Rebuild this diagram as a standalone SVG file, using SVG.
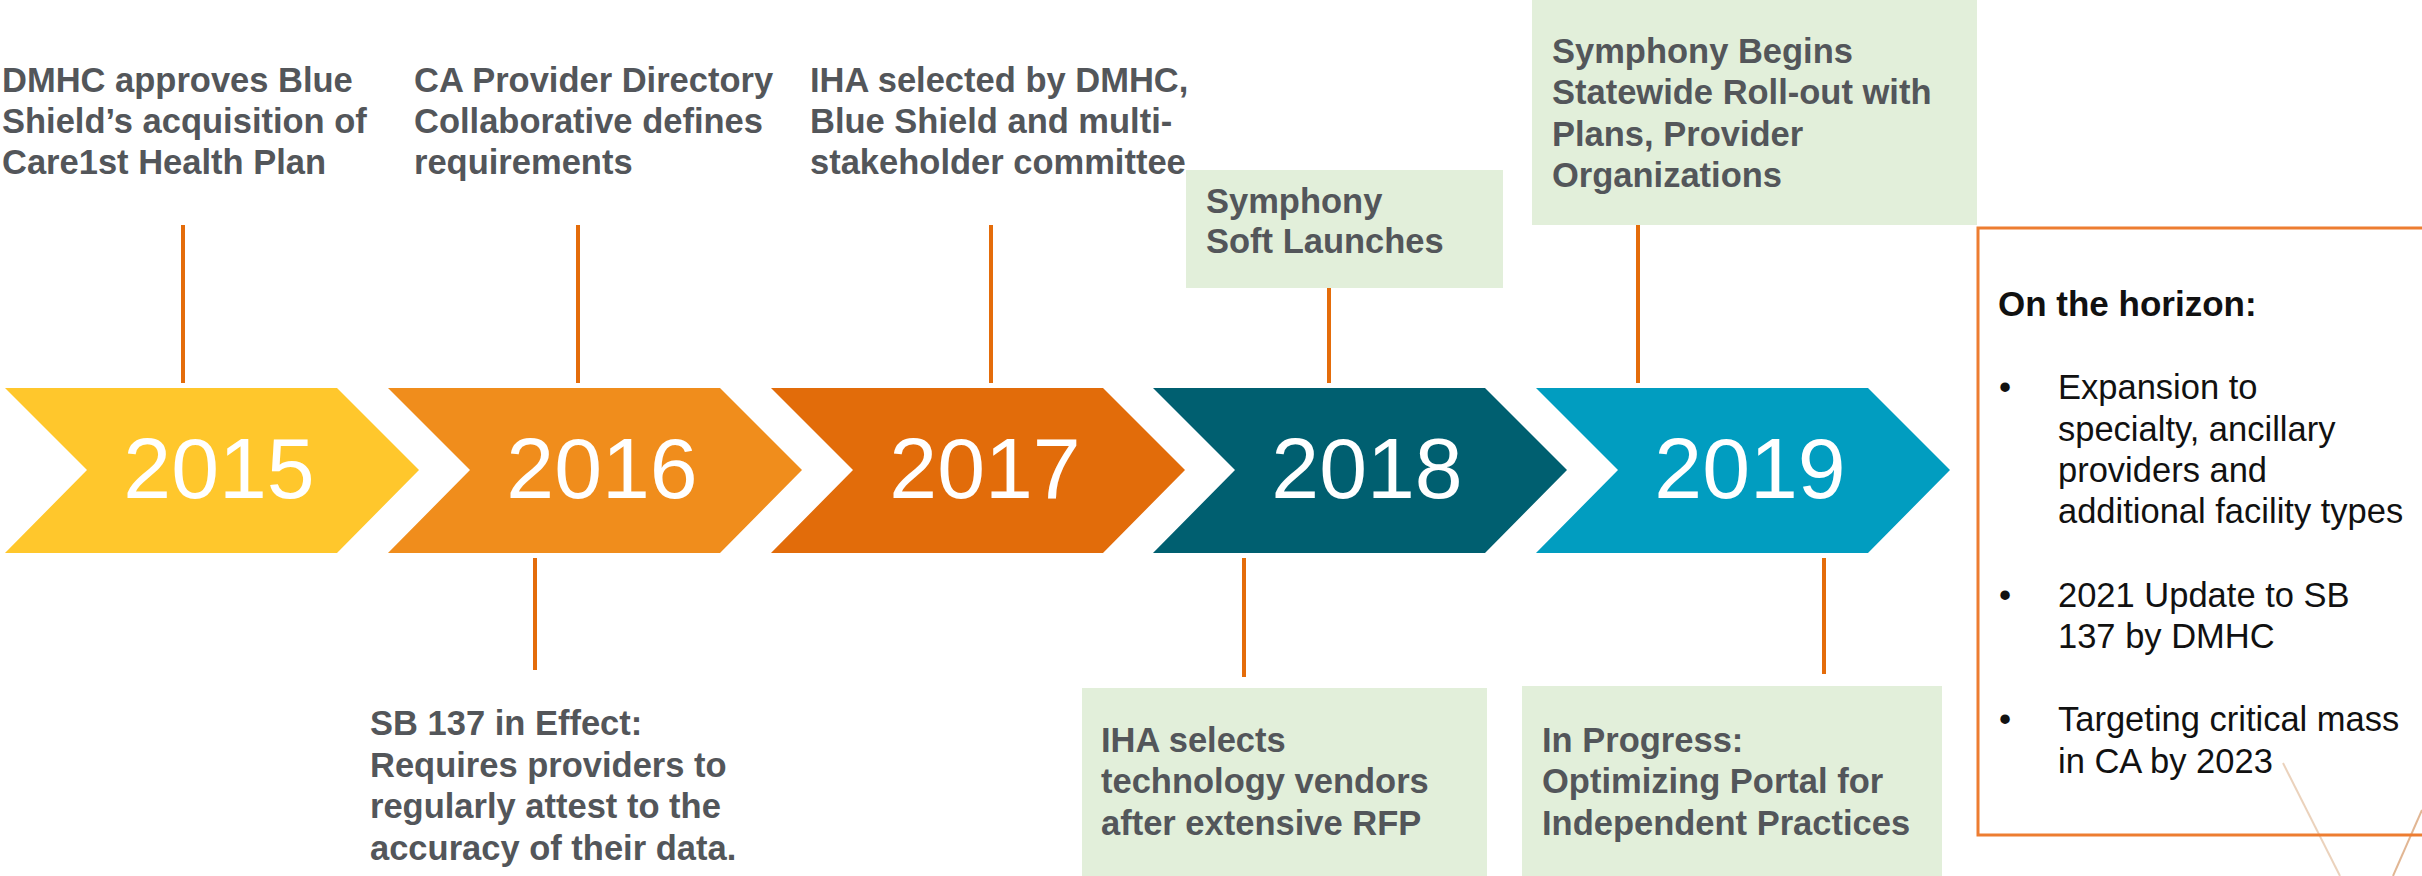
<svg xmlns="http://www.w3.org/2000/svg" width="2422" height="876" viewBox="0 0 2422 876">
  <style>
    .lbl { font-family: "Liberation Sans", Arial, sans-serif; font-weight: bold; font-size: 34.5px; fill: #53565A; }
    .year { font-family: "Liberation Sans", Arial, sans-serif; font-size: 86px; fill: #FFFFFF; text-anchor: middle; }
    .hz { font-family: "Liberation Sans", Arial, sans-serif; font-size: 34.5px; fill: #111111; }
    .hzb { font-family: "Liberation Sans", Arial, sans-serif; font-weight: bold; font-size: 35px; fill: #111111; }
    .conn { stroke: #E46C0A; stroke-width: 4; fill: none; }
    .gbox { fill: #E2EFDA; }
  </style>
  <defs>
    <path id="chev" d="M0,0 H332 L414,82 L332,165 H0 L82,82 Z"/>
    <linearGradient id="fade1" x1="0" y1="0" x2="0" y2="1">
      <stop offset="0" stop-color="#E8C4A0" stop-opacity="0.2"/>
      <stop offset="1" stop-color="#C98A52" stop-opacity="0.7"/>
    </linearGradient>
  </defs>
  <rect width="2422" height="876" fill="#FFFFFF"/>

  <g id="decor" fill="none" stroke-width="2">
    <path d="M2283,763 L2340,876" stroke="#D8A679" stroke-opacity="0.5"/>
    <path d="M2422,810 L2393,876" stroke="#C97A3A" stroke-opacity="0.55"/>
  </g>

  <g id="connectors">
    <line class="conn" x1="183" y1="225" x2="183" y2="383"/>
    <line class="conn" x1="578" y1="225" x2="578" y2="383"/>
    <line class="conn" x1="991" y1="225" x2="991" y2="383"/>
    <line class="conn" x1="1329" y1="288" x2="1329" y2="383"/>
    <line class="conn" x1="1638" y1="225" x2="1638" y2="383"/>
    <line class="conn" x1="535" y1="558" x2="535" y2="670"/>
    <line class="conn" x1="1244" y1="558" x2="1244" y2="677"/>
    <line class="conn" x1="1824" y1="558" x2="1824" y2="674"/>
  </g>

  <g id="y2015">
    <use href="#chev" x="5" y="388" fill="#FFC72C"/>
    <text class="year" x="219" y="498">2015</text>
  </g>
  <g id="y2016">
    <use href="#chev" x="388" y="388" fill="#F08D1C"/>
    <text class="year" x="602" y="498">2016</text>
  </g>
  <g id="y2017">
    <use href="#chev" x="771" y="388" fill="#E26C0A"/>
    <text class="year" x="985" y="498">2017</text>
  </g>
  <g id="y2018">
    <use href="#chev" x="1153" y="388" fill="#005F70"/>
    <text class="year" x="1367" y="498">2018</text>
  </g>
  <g id="y2019">
    <use href="#chev" x="1536" y="388" fill="#019DC0"/>
    <text class="year" x="1750" y="498">2019</text>
  </g>

  <g id="dmhc">
    <text class="lbl" x="2" y="92">DMHC approves Blue</text>
    <text class="lbl" x="2" y="133">Shield’s acquisition of</text>
    <text class="lbl" x="2" y="174">Care1st Health Plan</text>
  </g>
  <g id="ca-provider">
    <text class="lbl" x="414" y="92">CA Provider Directory</text>
    <text class="lbl" x="414" y="133">Collaborative defines</text>
    <text class="lbl" x="414" y="174">requirements</text>
  </g>
  <g id="iha-selected">
    <text class="lbl" x="810" y="92">IHA selected by DMHC,</text>
    <text class="lbl" x="810" y="133">Blue Shield and multi-</text>
    <text class="lbl" x="810" y="174">stakeholder committee</text>
  </g>
  <g id="soft-launch">
    <rect class="gbox" x="1186" y="170" width="317" height="118"/>
    <text class="lbl" x="1206" y="213">Symphony</text>
    <text class="lbl" x="1206" y="253">Soft Launches</text>
  </g>
  <g id="rollout">
    <rect class="gbox" x="1532" y="0" width="445" height="225"/>
    <text class="lbl" x="1552" y="63">Symphony Begins</text>
    <text class="lbl" x="1552" y="104">Statewide Roll-out with</text>
    <text class="lbl" x="1552" y="146">Plans, Provider</text>
    <text class="lbl" x="1552" y="187">Organizations</text>
  </g>
  <g id="sb137">
    <text class="lbl" x="370" y="735">SB 137 in Effect:</text>
    <text class="lbl" x="370" y="777">Requires providers to</text>
    <text class="lbl" x="370" y="818">regularly attest to the</text>
    <text class="lbl" x="370" y="860">accuracy of their data.</text>
  </g>
  <g id="iha-selects">
    <rect class="gbox" x="1082" y="688" width="405" height="190"/>
    <text class="lbl" x="1101" y="752">IHA selects</text>
    <text class="lbl" x="1101" y="793">technology vendors</text>
    <text class="lbl" x="1101" y="835">after extensive RFP</text>
  </g>
  <g id="in-progress">
    <rect class="gbox" x="1522" y="686" width="420" height="192"/>
    <text class="lbl" x="1542" y="752">In Progress:</text>
    <text class="lbl" x="1542" y="793">Optimizing Portal for</text>
    <text class="lbl" x="1542" y="835">Independent Practices</text>
  </g>
  <g id="horizon">
    <rect x="1978" y="228" width="470" height="607" fill="none" stroke="#ED7D31" stroke-width="3"/>
    <text class="hzb" x="1998" y="316">On the horizon:</text>
    <text class="hz" x="1999" y="399">•</text>
    <text class="hz" x="2058" y="399">Expansion to</text>
    <text class="hz" x="2058" y="441">specialty, ancillary</text>
    <text class="hz" x="2058" y="482">providers and</text>
    <text class="hz" x="2058" y="523">additional facility types</text>
    <text class="hz" x="1999" y="607">•</text>
    <text class="hz" x="2058" y="607">2021 Update to SB</text>
    <text class="hz" x="2058" y="648">137 by DMHC</text>
    <text class="hz" x="1999" y="731">•</text>
    <text class="hz" x="2058" y="731">Targeting critical mass</text>
    <text class="hz" x="2058" y="773">in CA by 2023</text>
  </g>
</svg>
